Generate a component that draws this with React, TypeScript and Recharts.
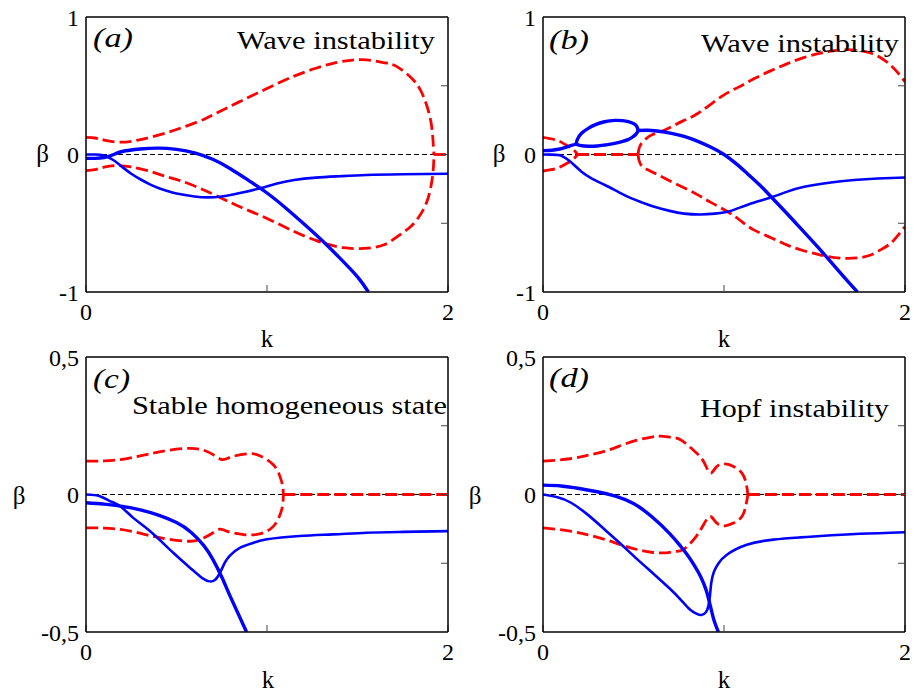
import React from 'react';
import { LineChart, Line, XAxis, YAxis, ReferenceLine } from 'recharts';

type Pt = [number, number];

// (a) wave instability
const aBlueThick: Pt[] = [[0, -0.028], [0.05, -0.028], [0.1, -0.022], [0.15, -0.002], [0.2, 0.022], [0.3, 0.04], [0.4, 0.046], [0.5, 0.037], [0.6, 0.012], [0.7, -0.035], [0.8, -0.105], [0.9, -0.19], [1.0, -0.28], [1.1, -0.385], [1.2, -0.5], [1.3, -0.62], [1.4, -0.75], [1.5, -0.89], [1.56, -1.0]];
const aBlueThin: Pt[] = [[0, 0], [0.05, 0], [0.1, -0.008], [0.15, -0.04], [0.2, -0.09], [0.25, -0.14], [0.3, -0.18], [0.35, -0.215], [0.4, -0.243], [0.45, -0.265], [0.5, -0.283], [0.6, -0.305], [0.67, -0.312], [0.75, -0.305], [0.85, -0.28], [0.96, -0.246], [1.05, -0.212], [1.15, -0.185], [1.27, -0.168], [1.4, -0.158], [1.55, -0.149], [1.75, -0.144], [2, -0.14]];
const aRedUp: Pt[] = [[0, 0.125], [0.05, 0.12], [0.1, 0.105], [0.19, 0.09], [0.3, 0.108], [0.43, 0.152], [0.55, 0.205], [0.65, 0.255], [0.72, 0.3], [0.85, 0.385], [1.0, 0.48], [1.15, 0.57], [1.27, 0.627], [1.37, 0.665], [1.46, 0.685], [1.55, 0.688], [1.65, 0.667], [1.72, 0.637], [1.81, 0.54], [1.865, 0.42], [1.9, 0.275], [1.915, 0.14], [1.922, 0]];
const aRedDown: Pt[] = [[0, -0.118], [0.05, -0.11], [0.1, -0.092], [0.17, -0.08], [0.25, -0.09], [0.335, -0.115], [0.43, -0.155], [0.52, -0.19], [0.62, -0.24], [0.72, -0.3], [0.85, -0.38], [1.0, -0.465], [1.15, -0.56], [1.27, -0.625], [1.35, -0.658], [1.42, -0.678], [1.5, -0.685], [1.58, -0.678], [1.65, -0.655], [1.72, -0.598], [1.78, -0.54], [1.827, -0.476], [1.88, -0.355], [1.91, -0.2], [1.92, -0.08], [1.922, 0]];
const aRedZero: Pt[] = [[1.922, 0], [2, 0]];

// (b) wave instability
const bBlueIn: Pt[] = [[0, 0.028], [0.05, 0.031], [0.085, 0.038], [0.12, 0.05], [0.158, 0.066], [0.183, 0.075]];
const bLoopUp: Pt[] = [[0.183, 0.075], [0.19, 0.11], [0.213, 0.154], [0.25, 0.19], [0.287, 0.215], [0.34, 0.238], [0.397, 0.248], [0.44, 0.246], [0.471, 0.239], [0.5, 0.225], [0.517, 0.207], [0.526, 0.175]];
const bLoopDown: Pt[] = [[0.183, 0.075], [0.21, 0.064], [0.25, 0.06], [0.3, 0.062], [0.342, 0.069], [0.39, 0.079], [0.434, 0.093], [0.47, 0.108], [0.498, 0.13], [0.515, 0.15], [0.526, 0.175]];
const bBlueOut: Pt[] = [[0.526, 0.175], [0.57, 0.176], [0.618, 0.173], [0.71, 0.154], [0.78, 0.132], [0.839, 0.105], [0.92, 0.058], [1.0, 0.0], [1.07, -0.07], [1.13, -0.14], [1.2, -0.225], [1.26, -0.307], [1.34, -0.418], [1.42, -0.532], [1.5, -0.647], [1.571, -0.752], [1.65, -0.872], [1.737, -1.0]];
const bBlueThin: Pt[] = [[0, 0], [0.05, -0.001], [0.085, -0.004], [0.11, -0.015], [0.14, -0.04], [0.175, -0.08], [0.213, -0.125], [0.27, -0.175], [0.342, -0.222], [0.42, -0.275], [0.489, -0.319], [0.55, -0.35], [0.615, -0.38], [0.7, -0.41], [0.78, -0.43], [0.872, -0.436], [0.95, -0.43], [1.02, -0.416], [1.1, -0.38], [1.18, -0.343], [1.26, -0.312], [1.35, -0.27], [1.443, -0.235], [1.58, -0.205], [1.718, -0.186], [1.85, -0.175], [2, -0.167]];
const bRedUpL: Pt[] = [[0, 0.125], [0.06, 0.11], [0.1, 0.09], [0.14, 0.06], [0.17, 0.032], [0.185, 0.01], [0.188, 0]];
const bRedDownL: Pt[] = [[0, -0.12], [0.06, -0.106], [0.1, -0.087], [0.14, -0.058], [0.17, -0.03], [0.185, -0.01], [0.188, 0]];
const bRedZero: Pt[] = [[0.188, 0], [0.525, 0]];
const bRedUpR: Pt[] = [[0.525, 0], [0.53, 0.04], [0.544, 0.081], [0.57, 0.115], [0.6, 0.142], [0.673, 0.178], [0.765, 0.239], [0.857, 0.3], [0.983, 0.419], [1.08, 0.49], [1.167, 0.552], [1.26, 0.61], [1.35, 0.661], [1.44, 0.705], [1.534, 0.738], [1.61, 0.755], [1.682, 0.763], [1.75, 0.755], [1.81, 0.738], [1.87, 0.7], [1.921, 0.649], [1.96, 0.595], [2, 0.528]];
const bRedDownR: Pt[] = [[0.525, 0], [0.53, -0.04], [0.544, -0.08], [0.57, -0.105], [0.6, -0.125], [0.71, -0.198], [0.839, -0.282], [0.93, -0.35], [1.02, -0.416], [1.09, -0.48], [1.167, -0.55], [1.26, -0.605], [1.35, -0.659], [1.44, -0.7], [1.534, -0.731], [1.61, -0.75], [1.682, -0.755], [1.75, -0.75], [1.81, -0.731], [1.87, -0.69], [1.921, -0.646], [1.96, -0.59], [2, -0.525]];

// (c) stable homogeneous state
const cBlueThick: Pt[] = [[0, -0.03], [0.1, -0.035], [0.2, -0.043], [0.3, -0.056], [0.4, -0.075], [0.5, -0.102], [0.58, -0.137], [0.65, -0.185], [0.7, -0.235], [0.75, -0.3], [0.8, -0.375], [0.887, -0.5]];
const cBlueThin: Pt[] = [[0, 0], [0.077, -0.006], [0.132, -0.024], [0.188, -0.042], [0.261, -0.085], [0.353, -0.133], [0.482, -0.212], [0.574, -0.266], [0.629, -0.297], [0.675, -0.315], [0.712, -0.311], [0.74, -0.285], [0.767, -0.248], [0.795, -0.222], [0.85, -0.194], [0.924, -0.176], [1.0, -0.163], [1.18, -0.151], [1.365, -0.145], [1.55, -0.139], [1.75, -0.136], [2, -0.133]];
const cRedUp: Pt[] = [[0, 0.121], [0.1, 0.122], [0.19, 0.127], [0.28, 0.138], [0.36, 0.149], [0.45, 0.16], [0.575, 0.168], [0.65, 0.161], [0.7, 0.146], [0.75, 0.127], [0.8, 0.136], [0.89, 0.148], [0.96, 0.141], [1.035, 0.108], [1.072, 0.065], [1.087, 0.029], [1.09, 0]];
const cRedDown: Pt[] = [[0, -0.121], [0.1, -0.122], [0.19, -0.127], [0.28, -0.138], [0.36, -0.151], [0.45, -0.162], [0.575, -0.17], [0.65, -0.158], [0.7, -0.14], [0.74, -0.126], [0.78, -0.134], [0.87, -0.146], [0.96, -0.143], [1.035, -0.116], [1.075, -0.068], [1.088, -0.031], [1.09, 0]];
const cRedZero: Pt[] = [[1.09, 0], [2, 0]];

// (d) Hopf instability
const dBlueThick: Pt[] = [[0, 0.034], [0.1, 0.031], [0.2, 0.022], [0.3, 0.01], [0.4, -0.006], [0.5, -0.033], [0.6, -0.08], [0.7, -0.142], [0.76, -0.188], [0.8, -0.222], [0.84, -0.262], [0.872, -0.3], [0.9, -0.345], [0.915, -0.38], [0.93, -0.42], [0.945, -0.458], [0.969, -0.5]];
const dBlueThin: Pt[] = [[0, 0], [0.08, -0.01], [0.155, -0.03], [0.25, -0.075], [0.34, -0.127], [0.43, -0.18], [0.52, -0.235], [0.61, -0.288], [0.7, -0.342], [0.76, -0.382], [0.81, -0.417], [0.85, -0.434], [0.875, -0.438], [0.9, -0.428], [0.914, -0.405], [0.922, -0.37], [0.93, -0.32], [0.945, -0.28], [0.97, -0.25], [1.016, -0.219], [1.126, -0.183], [1.273, -0.164], [1.42, -0.156], [1.534, -0.151], [1.75, -0.143], [2, -0.137]];
const dRedUp: Pt[] = [[0, 0.121], [0.15, 0.13], [0.25, 0.143], [0.34, 0.157], [0.43, 0.178], [0.52, 0.198], [0.6, 0.209], [0.65, 0.212], [0.71, 0.208], [0.76, 0.199], [0.83, 0.162], [0.887, 0.12], [0.924, 0.078], [0.96, 0.102], [1.006, 0.111], [1.052, 0.102], [1.099, 0.078], [1.122, 0.041], [1.132, 0]];
const dRedDown: Pt[] = [[0, -0.121], [0.15, -0.133], [0.25, -0.147], [0.34, -0.163], [0.43, -0.183], [0.52, -0.2], [0.6, -0.21], [0.68, -0.212], [0.73, -0.207], [0.776, -0.2], [0.84, -0.158], [0.887, -0.11], [0.924, -0.08], [0.96, -0.104], [1.006, -0.114], [1.052, -0.104], [1.099, -0.08], [1.122, -0.037], [1.132, 0]];
const dRedZero: Pt[] = [[1.132, 0], [2, 0]];

const FONT = 'Liberation Serif, DejaVu Serif, Times New Roman, serif';
const BLUE = '#0000ff';
const RED = '#ff0000';

type Curve = { pts: Pt[]; red?: boolean; thin?: boolean };

function Panel({ left, top, yMax, fmt, curves }: { left: number; top: number; yMax: number; fmt: (v: number) => string; curves: Curve[] }) {
  const tickFont = { fill: '#000', fontSize: 24, fontFamily: FONT };
  return (
    <div style={{ position: 'absolute', left: left - 86, top: top - 17 }}>
      <LineChart width={457} height={346} margin={{ top: 16, right: 8, bottom: 14, left: 0 }}>
        <XAxis dataKey="k" type="number" domain={[0, 2]} ticks={[0, 1, 2]} allowDataOverflow
          tickFormatter={(v) => (v === 1 ? '' : String(v))} height={40} tickSize={-7} tickMargin={18}
          axisLine={{ stroke: '#000', strokeWidth: 1.5 }} tickLine={{ stroke: '#444' }} tick={tickFont} />
        <XAxis xAxisId="top" orientation="top" type="number" domain={[0, 2]} ticks={[1]} allowDataOverflow
          tickFormatter={() => ''} height={1} tickSize={-7}
          axisLine={{ stroke: '#000', strokeWidth: 1.5 }} tickLine={{ stroke: '#444' }} />
        <YAxis type="number" domain={[-yMax, yMax]} ticks={[-yMax, 0, yMax]} allowDataOverflow
          tickFormatter={fmt} width={86} tickLine={false} tickSize={0} tickMargin={7}
          axisLine={{ stroke: '#000', strokeWidth: 1.5 }} tick={tickFont} />
        <YAxis yAxisId="r" orientation="right" type="number" domain={[-yMax, yMax]} ticks={[-yMax / 2, 0, yMax / 2]} allowDataOverflow
          tickFormatter={() => ''} width={1} tickSize={-7}
          axisLine={{ stroke: '#000', strokeWidth: 1.5 }} tickLine={{ stroke: '#444' }} />
        <ReferenceLine y={0} stroke="#000" strokeWidth={1} strokeDasharray="5 3" />
        {curves.map((c, i) => (
          <Line key={i} data={c.pts.map(([k, b]) => ({ k, b }))} dataKey="b" type="natural"
            stroke={c.red ? RED : BLUE} strokeWidth={c.red ? 2.8 : c.thin ? 2.6 : 3.4}
            strokeDasharray={c.red ? '12 5' : undefined}
            dot={false} activeDot={false} isAnimationActive={false} />
        ))}
      </LineChart>
    </div>
  );
}

const fmtA = (v: number) => String(v);
const fmtC = (v: number) => (v === 0 ? '0' : v > 0 ? '0,5' : '-0,5');

export default function App() {
  const txt = { fontFamily: FONT, fill: '#000' };
  return (
    <div style={{ position: 'absolute', left: 0, top: 0, width: 914, height: 693, background: '#fff', fontFamily: FONT }}>
      <Panel left={86} top={17} yMax={1} fmt={fmtA} curves={[
        { pts: aRedUp, red: true }, { pts: aRedDown, red: true }, { pts: aRedZero, red: true },
        { pts: aBlueThin, thin: true }, { pts: aBlueThick },
      ]} />
      <Panel left={543} top={17} yMax={1} fmt={fmtA} curves={[
        { pts: bRedUpL, red: true }, { pts: bRedDownL, red: true }, { pts: bRedZero, red: true },
        { pts: bRedUpR, red: true }, { pts: bRedDownR, red: true },
        { pts: bBlueThin, thin: true }, { pts: bBlueIn }, { pts: bLoopUp }, { pts: bLoopDown }, { pts: bBlueOut },
      ]} />
      <Panel left={86} top={357} yMax={0.5} fmt={fmtC} curves={[
        { pts: cRedUp, red: true }, { pts: cRedDown, red: true }, { pts: cRedZero, red: true },
        { pts: cBlueThin, thin: true }, { pts: cBlueThick },
      ]} />
      <Panel left={543} top={357} yMax={0.5} fmt={fmtC} curves={[
        { pts: dRedUp, red: true }, { pts: dRedDown, red: true }, { pts: dRedZero, red: true },
        { pts: dBlueThin, thin: true }, { pts: dBlueThick },
      ]} />
      <svg width={914} height={693} style={{ position: 'absolute', left: 0, top: 0, pointerEvents: 'none' }}>
        <g {...txt} fontSize={25} textAnchor="middle">
          <text x={42.5} y={162}>β</text>
          <text x={499} y={162}>β</text>
          <text x={19} y={504}>β</text>
          <text x={475} y={504}>β</text>
          <text x={267} y={347}>k</text>
          <text x={724} y={347}>k</text>
          <text x={268} y={688}>k</text>
          <text x={724} y={688}>k</text>
        </g>
        <g {...txt} fontSize={27} fontStyle="italic">
          <text x={93} y={47} textLength={40} lengthAdjust="spacingAndGlyphs">(a)</text>
          <text x={549} y={49} textLength={40} lengthAdjust="spacingAndGlyphs">(b)</text>
          <text x={93} y={388} textLength={37} lengthAdjust="spacingAndGlyphs">(c)</text>
          <text x={549} y={387} textLength={40} lengthAdjust="spacingAndGlyphs">(d)</text>
        </g>
        <g {...txt} fontSize={25}>
          <text x={237} y={49} textLength={198} lengthAdjust="spacingAndGlyphs">Wave instability</text>
          <text x={701} y={52} textLength={198} lengthAdjust="spacingAndGlyphs">Wave instability</text>
          <text x={132} y={414} textLength={315} lengthAdjust="spacingAndGlyphs">Stable homogeneous state</text>
          <text x={700} y={417} textLength={189} lengthAdjust="spacingAndGlyphs">Hopf instability</text>
        </g>
      </svg>
    </div>
  );
}
